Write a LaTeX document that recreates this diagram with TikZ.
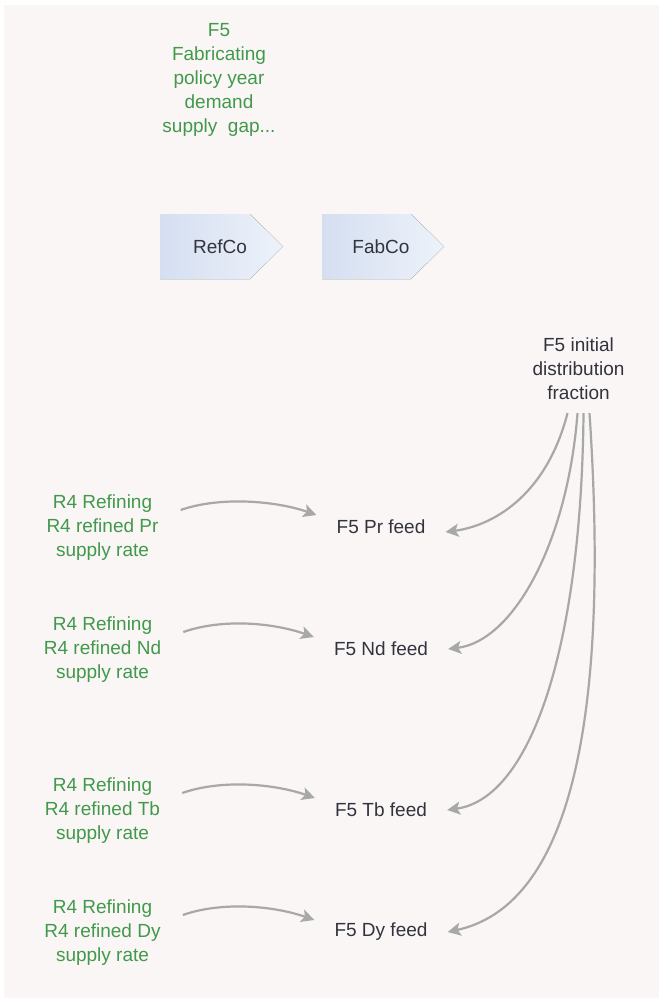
\documentclass[tikz,border=0pt]{standalone}
\usepackage{fontspec}
\setmainfont{Liberation Sans}
\usetikzlibrary{arrows.meta}
\definecolor{canvas}{HTML}{F9F6F5}
\definecolor{vargreen}{HTML}{42994B}
\definecolor{vartext}{HTML}{33333D}
\definecolor{linkgray}{HTML}{A8A8A8}
\definecolor{tabdark}{HTML}{D5DFF1}
\definecolor{tablight}{HTML}{EDF2FA}
\begin{document}
\begin{tikzpicture}[x=1pt,y=-1pt,
  lbl/.style={font=\fontsize{19}{24}\selectfont, align=center, inner sep=0pt},
  ghost/.style={lbl, text=vargreen},
  var/.style={lbl, text=vartext},
  feed/.style={var, inner xsep=20pt},
  tabfill/.style={left color=tabdark, right color=tablight},
  link/.style={draw=linkgray, line width=2.2pt, -{Stealth[length=13pt,width=13pt,inset=3pt]}}
]
% canvas
\fill[white] (0,0) rectangle (659,998);
\fill[canvas] (4,5) rectangle (659,998);
\useasboundingbox (0,0) rectangle (659,998);

% sector tabs
\fill[tabfill] (160,214) -- (250,214) -- (283,246.5) -- (250,279) -- (160,279) -- cycle;
\fill[tabfill] (322,214) -- (411,214) -- (444,246.5) -- (411,279) -- (322,279) -- cycle;
\node[var] (refco) at (220,246.5) {RefCo};
\node[var] (fabco) at (381,246.5) {FabCo};

% top ghost variable
\node[ghost] (gap) at (219,80) {F5\\Fabricating\\policy year\\demand\\supply~ gap...};

% distribution fraction
\node[var] (frac) at (578.5,369) {F5 initial\\distribution\\fraction};

% feeds
\node[feed] (fPr) at (381,527) {F5 Pr feed};
\node[feed] (fNd) at (381,649) {F5 Nd feed};
\node[feed] (fTb) at (381,810) {F5 Tb feed};
\node[feed] (fDy) at (381,932) {F5 Dy feed};

% refined supply rates
\node[ghost] (sPr) at (102.5,528) {R4 Refining\\R4 refined Pr\\supply rate};
\node[ghost] (sNd) at (102.5,650) {R4 Refining\\R4 refined Nd\\supply rate};
\node[ghost] (sTb) at (102.5,811) {R4 Refining\\R4 refined Tb\\supply rate};
\node[ghost] (sDy) at (102.5,933) {R4 Refining\\R4 refined Dy\\supply rate};

% supply rate -> feed
\foreach \s/\f in {sPr/fPr, sNd/fNd, sTb/fTb, sDy/fDy}
  \draw[link] ([xshift=22pt,yshift=18pt]\s.east)
    .. controls +(40,-14) and +(-40,-14) .. ([yshift=12pt]\f.west);

% fraction -> feeds
\draw[link] ([xshift=-11pt,yshift=-13pt]frac.south)
  .. controls +(-22,85) and +(45,-6) .. ([yshift=-5pt]fPr.east);
\draw[link] ([xshift=-1pt,yshift=-13pt]frac.south)
  .. controls +(-10,130) and +(65,-8) .. (fNd.east);
\draw[link] ([xshift=5pt,yshift=-13pt]frac.south)
  .. controls +(-2,230) and +(85,-12) .. (fTb.east);
\draw[link] ([xshift=11pt,yshift=-13pt]frac.south)
  .. controls +(22,330) and +(115,-25) .. (fDy.east);
\end{tikzpicture}
\end{document}
